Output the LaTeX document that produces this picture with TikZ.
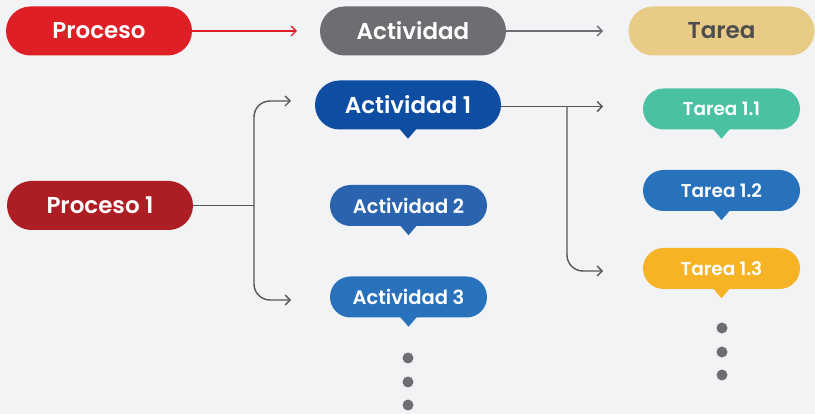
\documentclass[tikz,border=0pt]{standalone}
\usepackage{fontspec}
\setmainfont{Poppins}[BoldFont={Poppins SemiBold}]
\usetikzlibrary{shapes.misc,arrows.meta}

\definecolor{bgcol}{HTML}{F2F3F5}
\definecolor{procred}{HTML}{DE1F26}
\definecolor{actgray}{HTML}{6D6E71}
\definecolor{tarsand}{HTML}{E8CC85}
\definecolor{tartext}{HTML}{4D4D4F}
\definecolor{procdark}{HTML}{AD1E24}
\definecolor{actnavy}{HTML}{0E4EA2}
\definecolor{actmid}{HTML}{2A63AE}
\definecolor{actblue}{HTML}{2872BC}
\definecolor{targreen}{HTML}{4BC1A3}
\definecolor{taryellow}{HTML}{F5B325}
\definecolor{linecol}{HTML}{555658}

\tikzset{
  pill/.style={rounded rectangle, fill=#1, text=white, font=\bfseries,
    inner sep=0pt},
  bigpill/.style={pill=#1, minimum width=186, minimum height=49,
    font=\fontsize{23}{26}\selectfont\bfseries},
  smallpill/.style={pill=#1, minimum width=157, minimum height=41,
    font=\fontsize{18.5}{21}\selectfont\bfseries},
  conn/.style={draw=linecol, line width=1.4pt},
  tip/.style={-{Straight Barb[length=5pt,width=10pt,line width=1.4pt]}},
  dot/.style={circle, fill=actgray, inner sep=0pt, minimum size=11}
}

\begin{document}
\begin{tikzpicture}[x=1pt, y=-1pt]
    % Background and page size
    \fill[bgcol] (0,0) rectangle (815,414);
    \useasboundingbox (0,0) rectangle (815,414);

    % Legend row
    \node[bigpill=procred] (proc) at (99,31) {Proceso};
    \node[bigpill=actgray] (act) at (413,31) {Actividad};
    \node[bigpill=tarsand, text=tartext] (tar) at (721.5,31) {Tarea};

    \coordinate (procin) at (297,31);
    \coordinate (actin) at (603,31);
    \draw[tip, draw=procred, line width=2pt] (proc.east) -- (procin);
    \draw[tip, conn, draw=actgray, line width=2pt] (act.east) -- (actin);

    % Process and activities
    \node[bigpill=procdark] (proc1) at (100,205.5) {Proceso 1};
    \node[bigpill=actnavy] (act1) at (408,105) {Actividad 1};
    \node[smallpill=actmid, font=\fontsize{19.5}{22}\selectfont\bfseries] (act2) at (408.5,205.5) {Actividad 2};
    \node[smallpill=actblue, font=\fontsize{19.5}{22}\selectfont\bfseries] (act3) at (408.5,297) {Actividad 3};

    % Tasks
    \node[smallpill=targreen] (t11) at (721.5,109) {Tarea 1.1};
    \node[smallpill=actblue] (t12) at (721.5,190.5) {Tarea 1.2};
    \node[smallpill=taryellow] (t13) at (721.5,268.5) {Tarea 1.3};

    % Pointers below the bubbles
    \foreach \n/\c in {act1/actnavy, act2/actmid, act3/actblue,
                       t11/targreen, t12/actblue, t13/taryellow}
        \fill[\c] ([yshift=2]\n.south) ++(-9.5,0) -- ++(9.5,11) -- ++(9.5,-11) -- cycle;

    % Connectors from Proceso 1
    \coordinate (split) at (254,205.5);
    \coordinate (in1) at (291,101);
    \coordinate (in3) at (291,300);
    \draw[conn] (proc1.east) -- (split);
    \draw[conn, tip, rounded corners=16] (split) |- (in1);
    \draw[conn, tip, rounded corners=16] (split) |- (in3);

    % Connectors from Actividad 1
    \coordinate (fork) at (567,106.5);
    \coordinate (in11) at (603,106.5);
    \coordinate (in13) at (603,271);
    \draw[conn, tip] (act1.east |- fork) -- (in11);
    \draw[conn, tip, rounded corners=16] (fork) |- (in13);

    % Continuation dots
    \foreach \y in {358,382,405}
        \node[dot] (adot\y) at (408,\y) {};
    \foreach \y in {328,352,375}
        \node[dot] (tdot\y) at (722,\y) {};
\end{tikzpicture}
\end{document}
